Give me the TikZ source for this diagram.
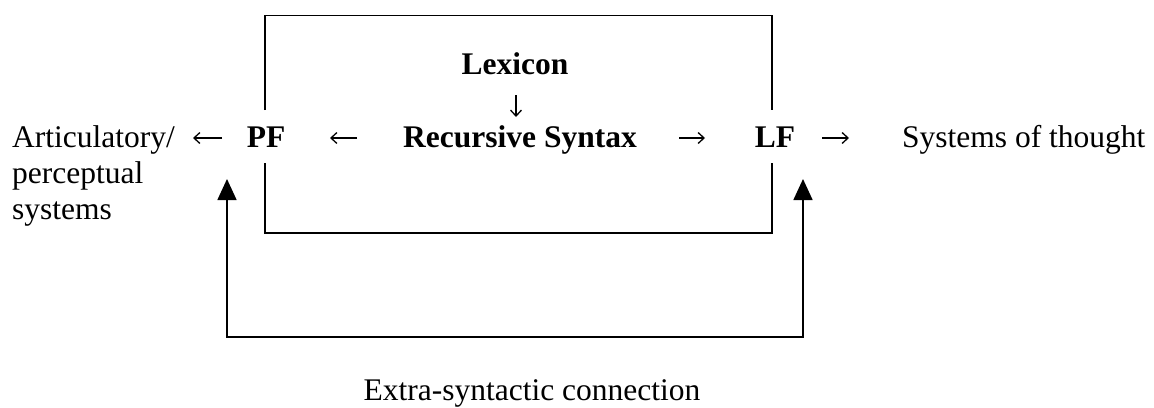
\documentclass[tikz,border=0pt]{standalone}
\usepackage{fontspec}
\setmainfont{Liberation Serif}
\usetikzlibrary{arrows.meta}
\begin{document}
\begin{tikzpicture}[x=1pt,y=-1pt,
  lbl/.style={font=\fontsize{31.5}{36}\selectfont, inner sep=0pt},
  bl/.style={lbl, font=\fontsize{31.5}{36}\selectfont\bfseries},
  frame/.style={line width=1.6pt, line join=miter},
  glypharrow/.style={line width=1.3pt, -{Straight Barb[length=6pt,width=11pt,line width=1.3pt]}},
  backarrow/.style={line width=1.6pt, {Triangle[width=19pt,length=21pt]}-{Triangle[width=19pt,length=21pt]}}]
\useasboundingbox (0,0) rectangle (1154,407);
% texts
\node[lbl, anchor=base west] (art1) at (12,147) {Articulatory/};
\node[lbl, anchor=base west] (art2) at (12,183) {perceptual};
\node[lbl, anchor=base west] (art3) at (12,219) {systems};
\node[bl, anchor=base] (PF) at (266,147) {PF};
\node[bl, anchor=base] (RS) at (520,147) {Recursive Syntax};
\node[bl, anchor=base] (Lex) at (515,74) {Lexicon};
\node[bl, anchor=base] (LF) at (775,147) {LF};
\node[lbl, anchor=base west] (sot) at (902,147) {Systems of thought};
\node[lbl, anchor=base] (esc) at (532,400) {Extra-syntactic connection};
% typographic arrows
\coordinate (a1s) at (222,138); \coordinate (a1e) at (193,138);
\coordinate (a2s) at (357,138); \coordinate (a2e) at (330,138);
\coordinate (a3s) at (679,138); \coordinate (a3e) at (705,138);
\coordinate (a4s) at (822,138); \coordinate (a4e) at (849,138);
\coordinate (dds) at (516,95); \coordinate (dde) at (516,117);
\draw[glypharrow] (a1s) -- (a1e);
\draw[glypharrow] (a2s) -- (a2e);
\draw[glypharrow] (a3s) -- (a3e);
\draw[glypharrow] (a4s) -- (a4e);
\draw[glypharrow] (dds) -- (dde);
% frame coordinates
\coordinate (pfT) at (265,110);
\coordinate (pfB) at (265,163);
\coordinate (lfT) at (772,110);
\coordinate (lfB) at (772,163);
\coordinate (top) at (500,15.5);
\coordinate (bot) at (500,233);
\coordinate (aL) at (227,179);
\coordinate (aR) at (803,179);
\coordinate (ob) at (500,337);
\draw[frame] (pfT) |- (top) -| (lfT);
\draw[frame] (pfB) |- (bot) -| (lfB);
\draw[backarrow] (aL) |- (ob) -| (aR);
\end{tikzpicture}
\end{document}
